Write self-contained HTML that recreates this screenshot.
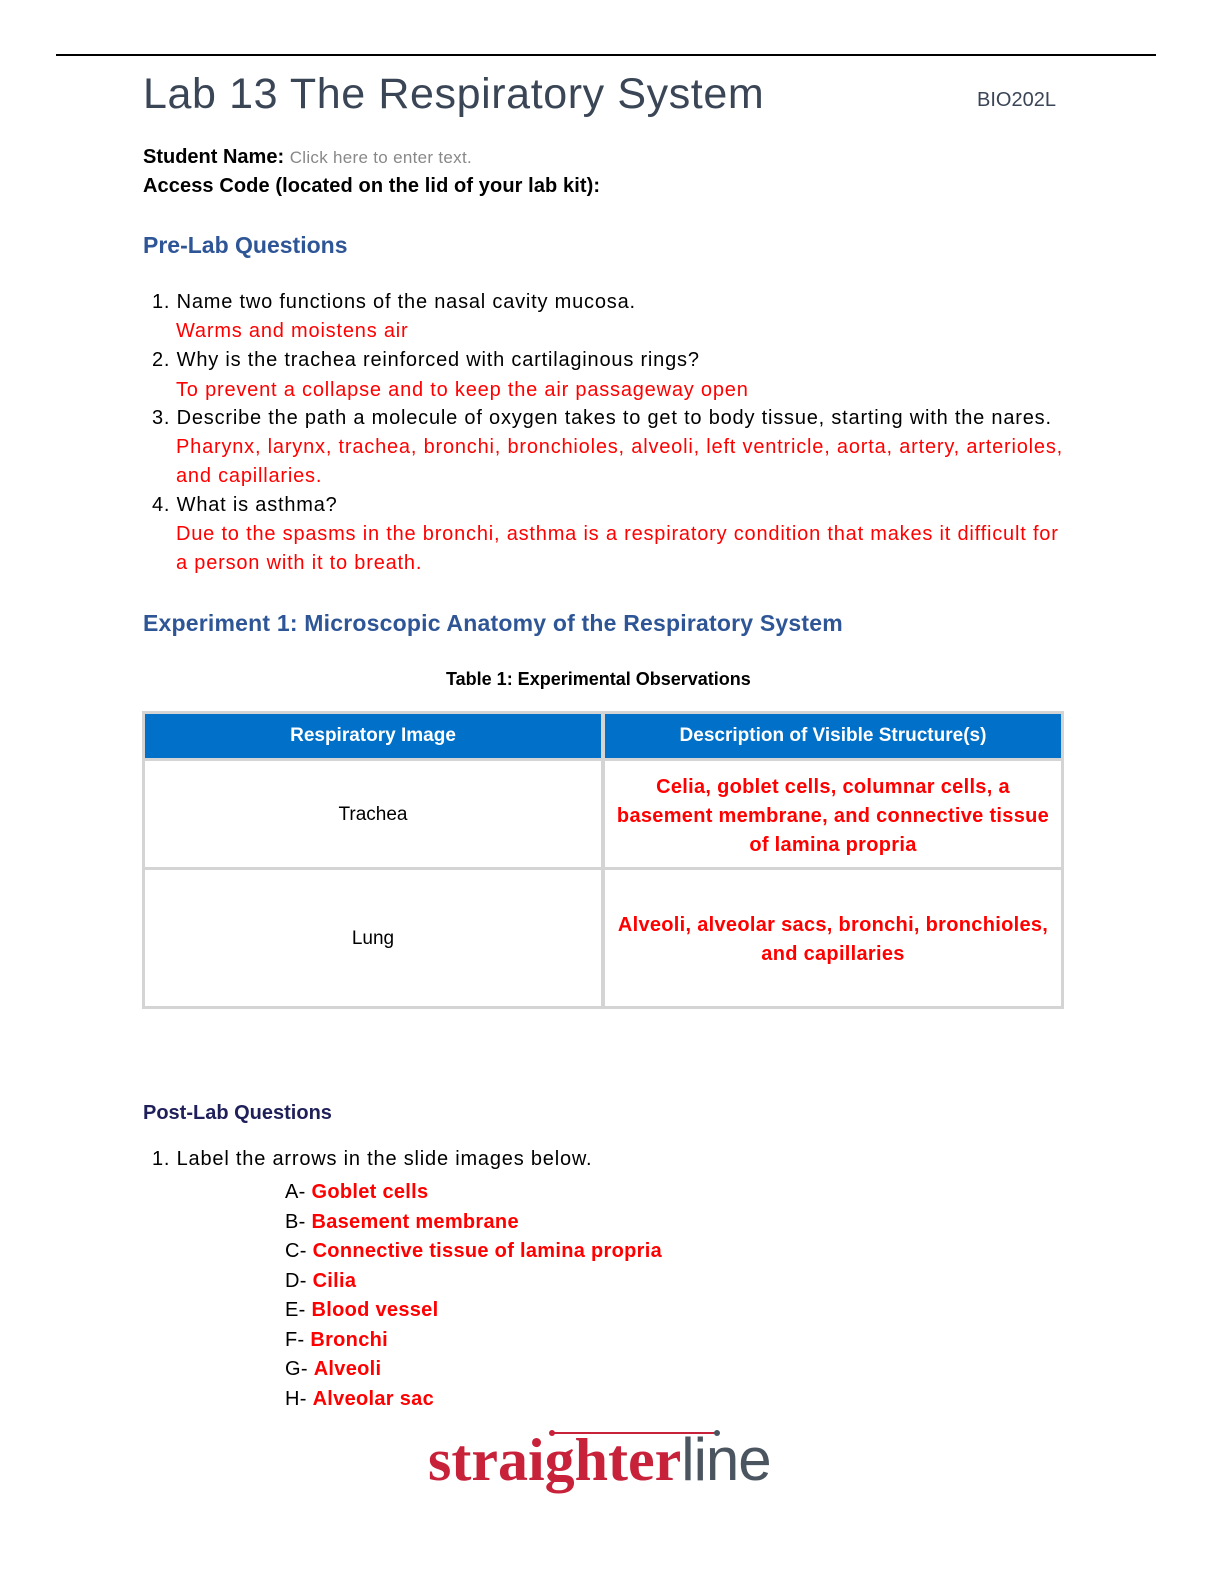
<!DOCTYPE html>
<html><head><meta charset="utf-8"><style>
body{margin:0;width:1224px;height:1584px;background:#fff;font-family:"Liberation Sans",sans-serif;position:relative;overflow:hidden}
.a{position:absolute;white-space:nowrap}
.t{font-size:20px;color:#000;letter-spacing:0.8px}
.r{color:#ff0000}
.b{font-weight:bold}
</style></head><body>
<div class="a" style="left:56px;top:54px;width:1100px;height:2px;background:#000"></div>
<div class="a" style="left:143px;top:70px;font-size:43px;color:#3a4556;letter-spacing:0.6px">Lab 13 The Respiratory System</div>
<div class="a" style="left:977px;top:89px;font-size:20px;color:#3a4556">BIO202L</div>
<div class="a" style="left:143px;top:146px;font-size:20px"><b>Student Name:</b> <span style="color:#888;font-size:17px;letter-spacing:0.3px">Click here to enter text.</span></div>
<div class="a b" style="left:143px;top:175px;font-size:20px;letter-spacing:0.1px">Access Code (located on the lid of your lab kit):</div>
<div class="a b" style="left:143px;top:232px;font-size:23px;color:#2e5596">Pre-Lab Questions</div>
<div class="a t" style="left:152px;top:291px">1. Name two functions of the nasal cavity mucosa.</div>
<div class="a t r" style="left:176px;top:320px">Warms and moistens air</div>
<div class="a t" style="left:152px;top:349px">2. Why is the trachea reinforced with cartilaginous rings?</div>
<div class="a t r" style="left:176px;top:379px">To prevent a collapse and to keep the air passageway open</div>
<div class="a t" style="left:152px;top:407px">3. Describe the path a molecule of oxygen takes to get to body tissue, starting with the nares.</div>
<div class="a t r" style="left:176px;top:436px">Pharynx, larynx, trachea, bronchi, bronchioles, alveoli, left ventricle, aorta, artery, arterioles,</div>
<div class="a t r" style="left:176px;top:465px">and capillaries.</div>
<div class="a t" style="left:152px;top:494px">4. What is asthma?</div>
<div class="a t r" style="left:176px;top:523px">Due to the spasms in the bronchi, asthma is a respiratory condition that makes it difficult for</div>
<div class="a t r" style="left:176px;top:552px">a person with it to breath.</div>
<div class="a b" style="left:143px;top:610px;font-size:23px;color:#2e5596;letter-spacing:0.2px">Experiment 1: Microscopic Anatomy of the Respiratory System</div>
<div class="a b" style="left:446px;top:669px;font-size:18px">Table 1: Experimental Observations</div>
<div class="a" style="left:142px;top:711px;width:916px;height:292px;border:3px solid #d4d4d4"></div>
<div class="a" style="left:145px;top:714px;width:456px;height:44px;background:#0070c8"></div>
<div class="a" style="left:605px;top:714px;width:456px;height:44px;background:#0070c8"></div>
<div class="a" style="left:601px;top:711px;width:4px;height:297px;background:#d4d4d4"></div>
<div class="a" style="left:142px;top:758px;width:922px;height:3px;background:#d4d4d4"></div>
<div class="a" style="left:142px;top:867px;width:922px;height:3px;background:#d4d4d4"></div>
<div class="a b" style="left:145px;top:725px;width:456px;text-align:center;color:#fff;font-size:19px">Respiratory Image</div>
<div class="a b" style="left:605px;top:725px;width:456px;text-align:center;color:#fff;font-size:19px">Description of Visible Structure(s)</div>
<div class="a" style="left:145px;top:804px;width:456px;text-align:center;font-size:19px">Trachea</div>
<div class="a" style="left:145px;top:928px;width:456px;text-align:center;font-size:19px">Lung</div>
<div class="a b r" style="left:605px;top:773px;width:456px;text-align:center;font-size:20px;line-height:29px;letter-spacing:0.3px">Celia, goblet cells, columnar cells, a<br>basement membrane, and connective tissue<br>of lamina propria</div>
<div class="a b r" style="left:605px;top:911px;width:456px;text-align:center;font-size:20px;line-height:29px;letter-spacing:0.3px">Alveoli, alveolar sacs, bronchi, bronchioles,<br>and capillaries</div>
<div class="a b" style="left:143px;top:1102px;font-size:20px;color:#1f1f5a">Post-Lab Questions</div>
<div class="a t" style="left:152px;top:1148px">1. Label the arrows in the slide images below.</div>
<div class="a" style="left:285px;top:1178px;line-height:29.5px;font-size:20px;letter-spacing:0.3px">A- <b class="r">Goblet cells</b><br>B- <b class="r">Basement membrane</b><br>C- <b class="r">Connective tissue of lamina propria</b><br>D- <b class="r">Cilia</b><br>E- <b class="r">Blood vessel</b><br>F- <b class="r">Bronchi</b><br>G- <b class="r">Alveoli</b><br>H- <b class="r">Alveolar sac</b></div>
<div class="a" style="left:552px;top:1432px;width:166px;height:2px;background:#c8223a"></div>
<div class="a" style="left:549px;top:1430px;width:6px;height:6px;border-radius:3px;background:#c8223a"></div>
<div class="a" style="left:714px;top:1430px;width:6px;height:6px;border-radius:3px;background:#4a5560"></div>
<div class="a" style="left:428px;top:1424px;font-size:60px;line-height:72px"><span style="font-family:'Liberation Serif',serif;font-weight:bold;color:#c8223a;letter-spacing:0px">straighter</span><span style="color:#4a5560;letter-spacing:-1px">line</span></div>
</body></html>
